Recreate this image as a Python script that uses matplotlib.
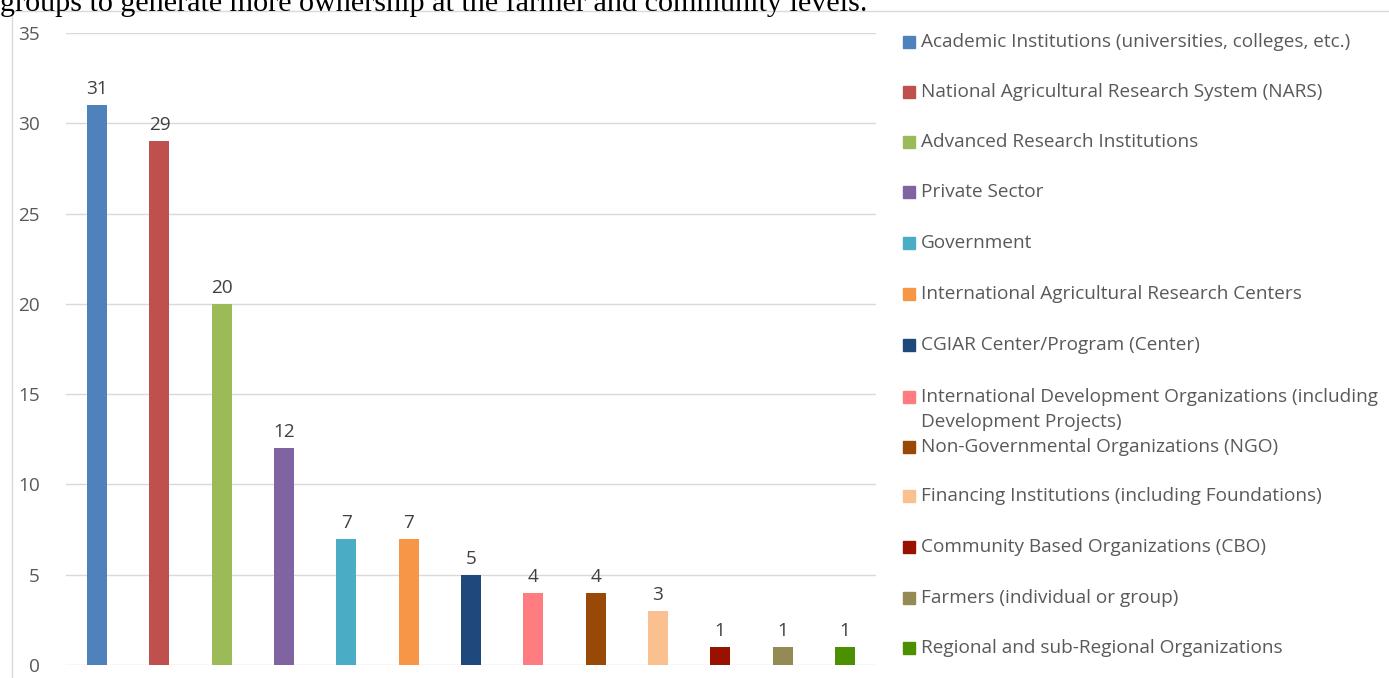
import matplotlib.pyplot as plt
from matplotlib.patches import Rectangle

# Partner categories and number of mentions
categories = [
    "Academic Institutions (universities, colleges, etc.)",
    "National Agricultural Research System (NARS)",
    "Advanced Research Institutions",
    "Private Sector",
    "Government",
    "International Agricultural Research Centers",
    "CGIAR Center/Program (Center)",
    "International Development Organizations (including\nDevelopment Projects)",
    "Non-Governmental Organizations (NGO)",
    "Financing Institutions (including Foundations)",
    "Community Based Organizations (CBO)",
    "Farmers (individual or group)",
    "Regional and sub-Regional Organizations",
]
counts = [31, 29, 20, 12, 7, 7, 5, 4, 4, 3, 1, 1, 1]
colors = [
    "#4F81BD", "#C0504D", "#9BBB59", "#8064A2", "#4BACC6", "#F79646",
    "#1F497D", "#FF7C80", "#984807", "#FAC090", "#991100", "#948A54", "#4E8F00",
]
y_ticks = [0, 5, 10, 15, 20, 25, 30, 35]

plt.rcParams["font.family"] = ["Open Sans", "DejaVu Sans"]
TEXT = "#595959"
GRID = "#D9D9D9"
FS = 13.7

W, H = 1389, 678
fig = plt.figure(figsize=(W / 100, H / 100), dpi=100)

# chart frame (runs off the right and bottom edges)
fig.add_artist(Rectangle((12 / W, -0.1), 1.2, 1 - 11 / H + 0.1,
                         transform=fig.transFigure, fill=False,
                         edgecolor=GRID, linewidth=1))

# leftover line of body text above the chart
fig.text(0, 1 - 11 / H, "groups to generate more ownership at the farmer and community levels.",
         family="Liberation Serif", fontsize=21.7, color="black",
         ha="left", va="baseline")

ax = fig.add_axes([66 / W, 1 - 665 / H, (876 - 66) / W, (665 - 33) / H])
x = range(len(counts))
bars = ax.bar(x, counts, width=0.32, color=colors, zorder=3)
for b, v in zip(bars, counts):
    ax.annotate(str(v), (b.get_x() + b.get_width() / 2, v),
                xytext=(0, 5), textcoords="offset points",
                ha="center", va="bottom", fontsize=FS, color="#404040")

ax.set_xlim(-0.5, len(counts) - 0.5)
ax.set_ylim(0, 35)
ax.set_yticks(y_ticks)
ax.set_xticks([])
ax.tick_params(axis="y", length=0, pad=19, labelsize=FS, labelcolor=TEXT)
ax.grid(axis="y", color=GRID, linewidth=1, zorder=0)
for s in ax.spines.values():
    s.set_visible(False)

# legend, one row per category; wrapped labels continue 25 px lower
row_y = [42, 92, 142, 192, 243, 294, 345, 397, 447, 496, 547, 598, 648]
for label, c, ry in zip(categories, colors, row_y):
    fig.add_artist(Rectangle((903 / W, 1 - (ry + 6) / H), 12 / W, 12 / H,
                             transform=fig.transFigure, color=c))
    for k, line in enumerate(label.split("\n")):
        fig.text(921 / W, 1 - (ry + 25 * k) / H, line, fontsize=FS,
                 color=TEXT, ha="left", va="center")

fig.savefig("out.png", dpi=100)
